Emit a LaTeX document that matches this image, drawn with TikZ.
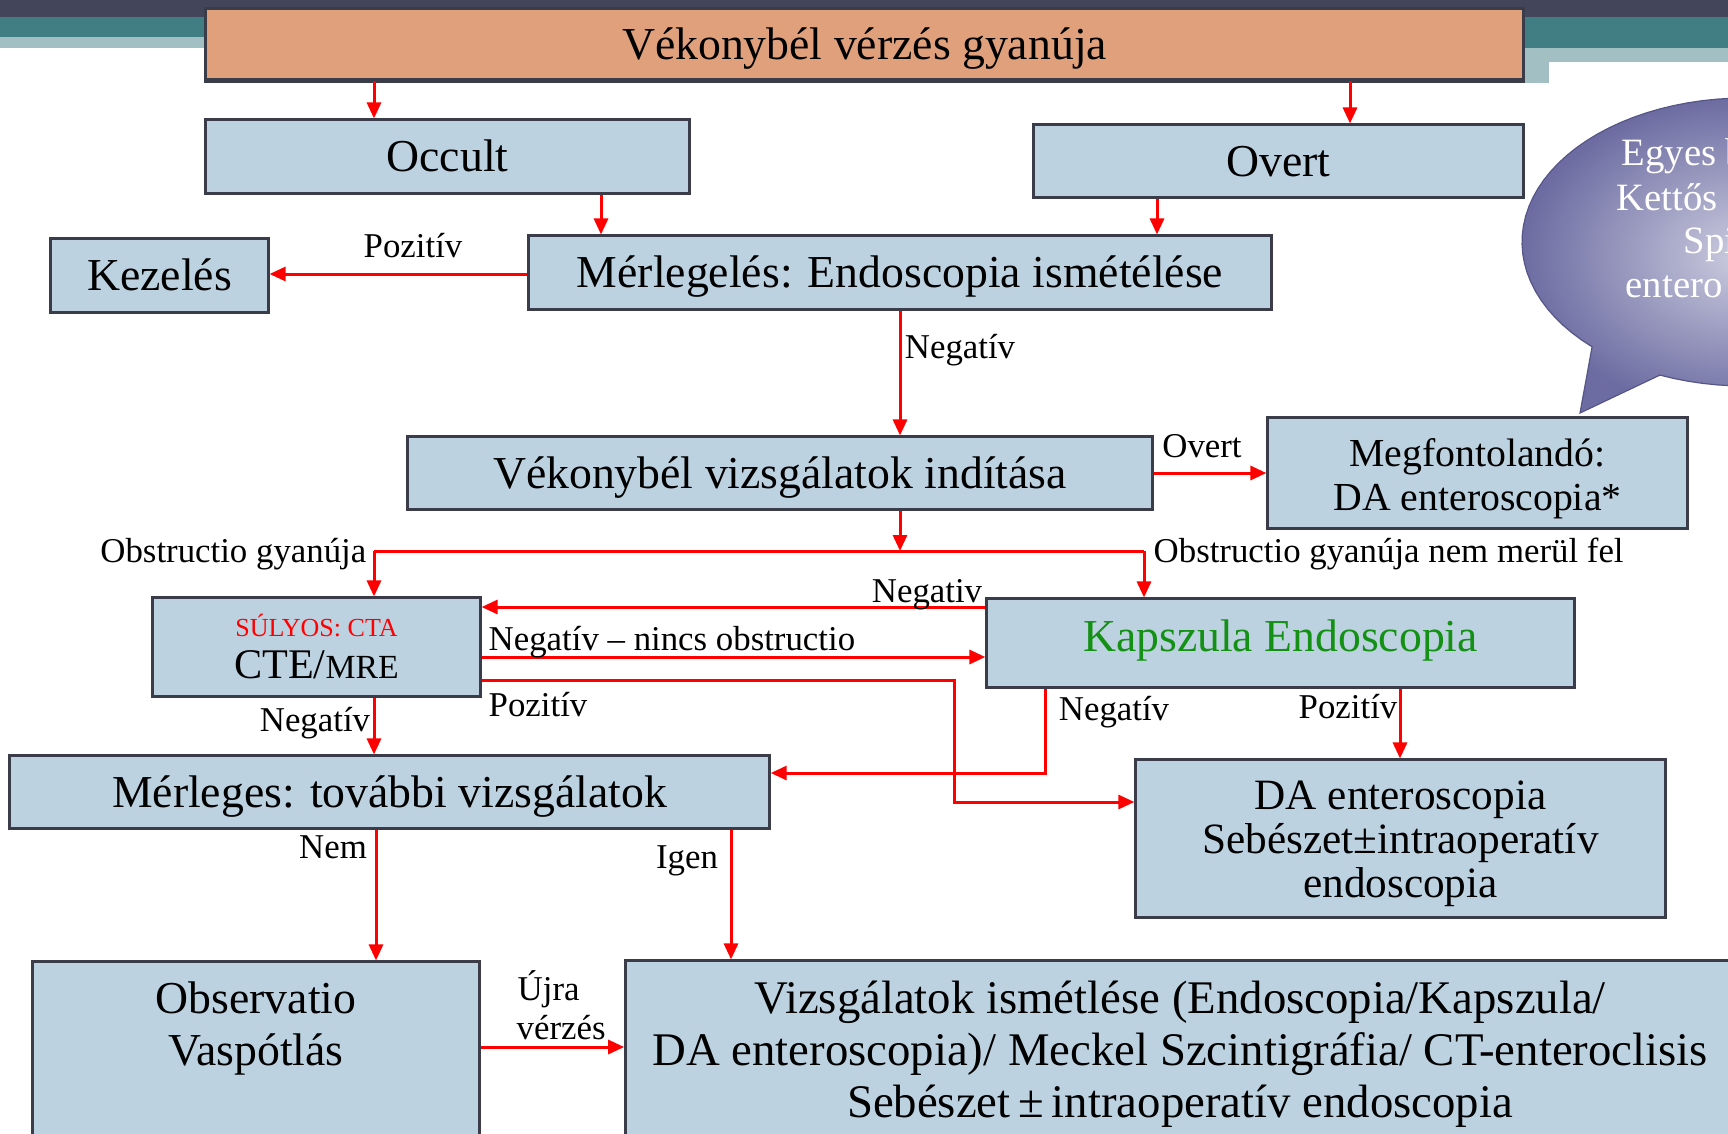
\documentclass[tikz,border=0pt]{standalone}
\usepackage{fontspec}
\setmainfont{Liberation Serif}
\usetikzlibrary{arrows.meta}
\definecolor{boxfill}{RGB}{189,210,225}
\definecolor{boxline}{RGB}{58,60,74}
\definecolor{titlefill}{RGB}{224,160,124}
\definecolor{kapgreen}{RGB}{20,145,20}
\definecolor{banddark}{RGB}{67,69,90}
\definecolor{bandteal}{RGB}{65,126,132}
\definecolor{bandlight}{RGB}{162,192,196}
\definecolor{bubouter}{RGB}{108,108,162}
\definecolor{bubinner}{RGB}{205,205,224}
\definecolor{bubline}{RGB}{85,85,135}
\begin{document}
\begin{tikzpicture}[x=0.01cm,y=-0.01cm,
  box/.style={draw=boxline, line width=0.03cm, fill=boxfill, inner sep=0pt, align=center, font=\fontsize{13}{14.8}\selectfont},
  one/.style={text height=10.6pt, text depth=2pt},
  arr/.style={draw=red, line width=0.03cm, -{Triangle[length=0.16cm,width=0.14cm]}},
  redline/.style={draw=red, line width=0.03cm},
  lab/.style={font=\fontsize{9.9}{11}\selectfont, inner sep=0pt},
  txt/.style={inner sep=0pt, align=center, font=\fontsize{13}{14.8}\selectfont},
  bubtxt/.style={inner sep=0pt, anchor=base west, text=white, font=\fontsize{11}{12}\selectfont}]
\useasboundingbox (0,0) rectangle (1728,1133);
% background bands
\fill[banddark] (0,0) rectangle (1728,17);
\fill[bandteal] (0,17) rectangle (1728,48);
\fill[bandlight] (0,37) rectangle (206,48);
\fill[bandlight] (1523,48) rectangle (1728,62);
\fill[bandlight] (1137,62) rectangle (1549,83);
% speech bubble
\shade[inner color=bubinner, outer color=bubouter, draw=bubline, line width=0.012cm]
  (1580,413) -- (1660,375)
  -- plot[domain=112.3:-226.7, samples=90, variable=\t] ({1745+223*cos(\t)},{242+144*sin(\t)})
  -- cycle;
\node[bubtxt] (b1) at (1621,165) {Egyes b};
\node[bubtxt] (b2) at (1616,210) {Kettős};
\node[bubtxt] (b3) at (1683,253) {Spi};
\node[bubtxt] (b4) at (1625,297) {entero};
% boxes
\node[box, one, fill=titlefill, minimum width=13.17cm, minimum height=0.70cm] (title) at (864.5,44) {Vékonybél vérzés gyanúja};
\draw[boxline, line width=0.04cm] (title.south west) -- (title.south east);
\node[box, one, minimum width=4.83cm, minimum height=0.73cm] (occ) at (447.5,156.5) {Occult};
\node[box, one, minimum width=4.89cm, minimum height=0.72cm] (ovt) at (1278.5,161) {Overt};
\node[box, one, minimum width=2.17cm, minimum height=0.73cm] (kez) at (159.5,275.5) {Kezelés};
\node[box, one, minimum width=7.42cm, minimum height=0.73cm] (mer) at (900,272.5) {Mérlegelés: Endoscopia ismétélése};
\node[box, one, minimum width=7.44cm, minimum height=0.72cm] (vek) at (780,473) {Vékonybél vizsgálatok indítása};
\node[box, minimum width=4.19cm, minimum height=1.10cm] (meg) at (1477.5,473) {};
\node[txt, font=\fontsize{11.3}{12.5}\selectfont] (megT) at (1477.5,478.5) {Megfontolandó:\\DA enteroscopia*};
\node[box, minimum width=3.27cm, minimum height=0.98cm] (cte) at (316.5,647) {};
\node[txt, text=red, font=\fontsize{7.4}{8}\selectfont] (cteA) at (316.5,626) {SÚLYOS: CTA};
\node[txt, font=\fontsize{12}{13}\selectfont] (cteB) at (316.5,665) {CTE/{\fontsize{9.6}{10}\selectfont MRE}};
\node[box, text height=8pt, text depth=3.2pt, minimum width=5.87cm, minimum height=0.88cm, text=kapgreen] (kap) at (1280.5,643) {Kapszula Endoscopia};
\node[box, one, minimum width=7.59cm, minimum height=0.72cm] (mrg) at (389.5,792) {Mérleges: további vizsgálatok};
\node[box, minimum width=5.29cm, minimum height=1.57cm] (da) at (1400.5,838.5) {};
\node[txt, font=\fontsize{12.3}{12.5}\selectfont] (daT) at (1400.5,844) {DA enteroscopia\\Sebészet±intraoperatív\\endoscopia};
\node[box, minimum width=4.46cm, minimum height=2.0cm] (obs) at (256,1062) {};
\node[txt] (obsT) at (256,1028.5) {Observatio\\Vaspótlás};
\node[box, minimum width=11.14cm, minimum height=2.0cm] (viz) at (1183,1061) {};
\node[txt, font=\fontsize{13.3}{14.8}\selectfont] (vizT) at (1180,1054.5) {Vizsgálatok ismétlése (Endoscopia/Kapszula/\\DA enteroscopia)/ Meckel Szcintigráfia/ CT-enteroclisis\\Sebészet\,±\,intraoperatív endoscopia};
% helper coordinates
\coordinate (xa) at (374,0);
\coordinate (xb) at (1350,0);
\coordinate (xc) at (601,0);
\coordinate (xd) at (1157,0);
\coordinate (xe) at (900,0);
\coordinate (xg) at (1045,0);
\coordinate (xh) at (1400,0);
\coordinate (xi) at (954,0);
\coordinate (xj) at (731,0);
\coordinate (xk) at (376,0);
\coordinate (ya) at (0,274);
\coordinate (yd) at (0,607);
\coordinate (ye) at (0,657);
\coordinate (yf) at (0,680);
\coordinate (yg) at (0,802);
\coordinate (yh) at (0,773);
\coordinate (yi) at (0,1047);
\coordinate (jl) at (374,551);
\coordinate (jm) at (900,551);
\coordinate (jr) at (1144,551);
% connectors
\draw[arr] (title.south -| xa) -- (occ.north -| xa);
\draw[arr] (title.south -| xb) -- (ovt.north -| xb);
\draw[arr] (occ.south -| xc) -- (mer.north -| xc);
\draw[arr] (ovt.south -| xd) -- (mer.north -| xd);
\draw[arr] (mer.west |- ya) -- (kez.east |- ya);
\draw[arr] (mer.south -| xe) -- (vek.north -| xe);
\draw[arr] (vek.east) -- (meg.west);
\draw[arr] (vek.south -| jm) -- (jm);
\draw[redline] (jl) -- (jr);
\draw[arr] (jl) -- (cte.north -| jl);
\draw[arr] (jr) -- (kap.north -| jr);
\draw[arr] (kap.west |- yd) -- (cte.east |- yd);
\draw[arr] (cte.east |- ye) -- (kap.west |- ye);
\draw[arr] (cte.east |- yf) -| (xi |- yg) -- (da.west |- yg);
\draw[arr] (cte.south -| xa) -- (mrg.north -| xa);
\draw[arr] (kap.south -| xg) |- (mrg.east |- yh);
\draw[arr] (kap.south -| xh) -- (da.north -| xh);
\draw[arr] (mrg.south -| xk) -- (obs.north -| xk);
\draw[arr] (mrg.south -| xj) -- (viz.north -| xj);
\draw[arr] (obs.east |- yi) -- (viz.west |- yi);
% labels
\node[lab] (l1) at (413,246) {Pozitív};
\node[lab] (l2) at (960,350) {Negatív};
\node[lab] (l3) at (1202,446) {Overt};
\node[lab, anchor=east] (l4) at (367,554) {Obstructio gyanúja};
\node[lab, anchor=west] (l5) at (1153,554) {Obstructio gyanúja nem merül fel};
\node[lab] (l6) at (927,595) {Negativ};
\node[lab, anchor=west] (l7) at (488,642) {Negatív – nincs obstructio};
\node[lab] (l8) at (538,705) {Pozitív};
\node[lab] (l9) at (315,723) {Negatív};
\node[lab] (l10) at (1114,712) {Negatív};
\node[lab] (l11) at (1348,707) {Pozitív};
\node[lab] (l12) at (333,847) {Nem};
\node[lab] (l13) at (687,861) {Igen};
\node[lab, align=left, anchor=west, font=\fontsize{9.9}{11.1}\selectfont] (l14) at (516,1005) {\hspace*{0.01cm}Újra\\vérzés};
\end{tikzpicture}
\end{document}
